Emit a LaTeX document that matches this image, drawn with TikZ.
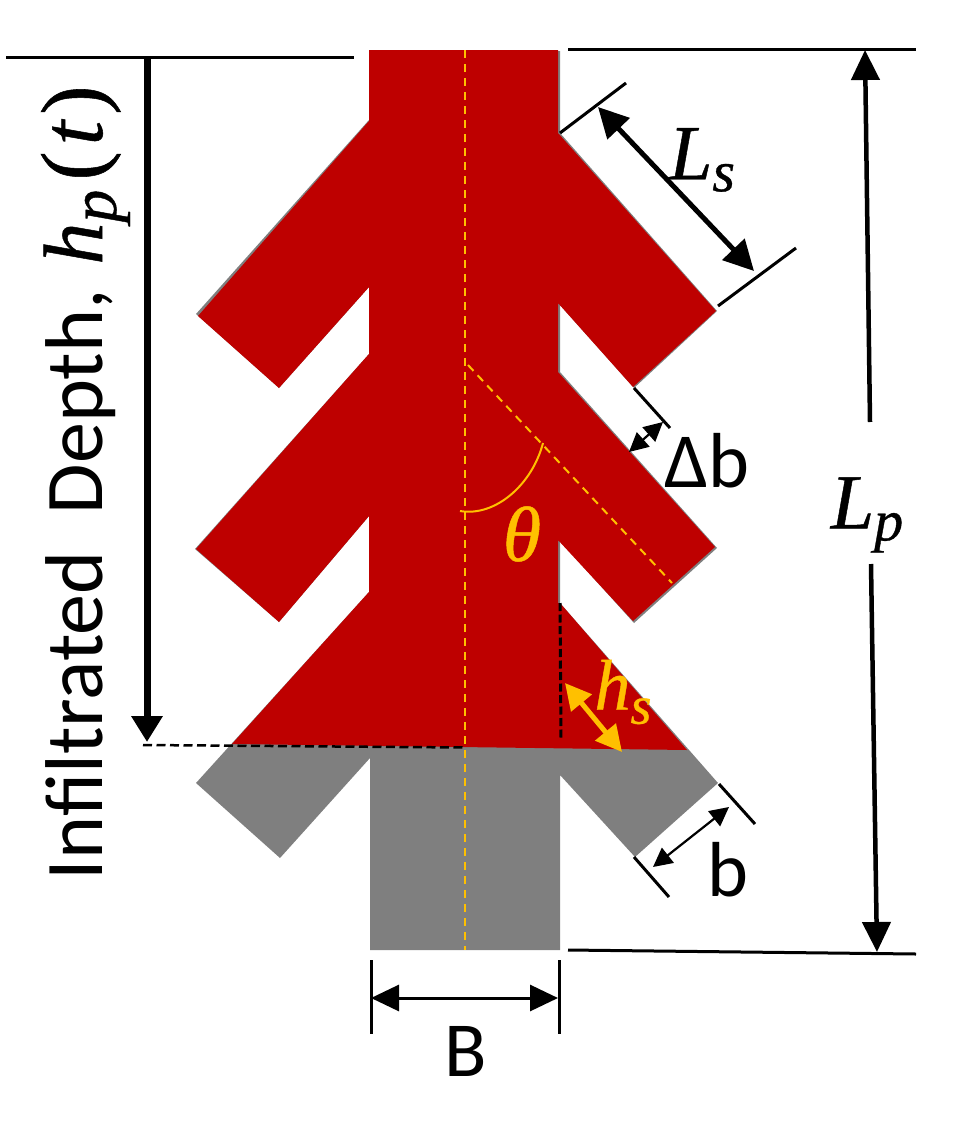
\RequirePackage{fix-cm}
\documentclass[tikz,border=0pt]{standalone}
\usepackage{fontspec}
\setmainfont{Carlito}
\newfontfamily\camb[FakeBold=0.6]{Liberation Serif}
\usetikzlibrary{arrows.meta}
\definecolor{treered}{HTML}{BE0000}
\definecolor{treegray}{HTML}{7F7F7F}
\definecolor{accent}{HTML}{FFC000}
\newcommand{\fs}[1]{\fontsize{#1}{#1}\selectfont}
% italic letter with a lowered subscript: size, letter, sub size, drop, subscript
\newcommand{\subbed}[5]{{\camb\itshape\fs{#1}#2\raisebox{-#4pt}{\fs{#3}#5}}}
\tikzset{
  x=1pt,y=-1pt,
  thinline/.style={line width=3pt,black},
  bigdim/.style={line width=5pt,{Triangle[length=30pt,width=30pt]}-{Triangle[length=30pt,width=30pt]}},
  onedim/.style={line width=4.5pt,-{Triangle[length=30pt,width=28pt]}},
  smalldim/.style={line width=2.2pt,{Triangle[length=19pt,width=19pt]}-{Triangle[length=19pt,width=19pt]}},
  axis/.style={accent,line width=2pt,dash pattern=on 8pt off 6pt},
  label/.style={inner sep=0pt,outer sep=0pt,black},
}
\begin{document}
\begin{tikzpicture}
\useasboundingbox (0,0) rectangle (970,1146);
% gray tree behind
\fill[treegray] (369,51) -- (560,51) -- (560,133) -- (717,311) -- (634,388) -- (560,305) -- (560,372) -- (717,548) -- (634,623) -- (560,541) -- (560,603) -- (718,783) -- (635,857) -- (560,775) -- (560,950) -- (370,950) -- (370,758) -- (280,858) -- (196,783) -- (369,592) -- (369,516) -- (279,622) -- (195,549) -- (369,354) -- (369,287) -- (279,388) -- (196,314) -- (369,120) -- cycle;
% red tree
\fill[treered] (369,50) -- (558,50) -- (558,133) -- (716,311) -- (633,387) -- (558,303) -- (558,372) -- (715,547) -- (633,621) -- (558,540) -- (558,603) -- (560,603) -- (687,750) -- (232,744) -- (369,592) -- (369,516) -- (279,622) -- (196,549) -- (369,354) -- (369,287) -- (279,388) -- (198,316) -- (369,121) -- cycle;
% axes
\coordinate (axT) at (464.5,50);
\coordinate (axB) at (464.5,950);
\coordinate (brS) at (468,365);
\coordinate (brE) at (672,583);
\draw[axis] (axT) -- (axB);
\draw[axis] (brS) -- (brE);
\coordinate (arcA) at (543,443);
\coordinate (arcB) at (460,511);
\draw[accent,line width=2pt] (arcA) .. controls (532,485) and (495,517) .. (arcB);
\node[label,text=accent,font=\camb\itshape\fs{78}] (theta) at (522,534) {θ};
% infiltrated depth
\coordinate (ltA) at (6,57);
\coordinate (ltB) at (354,57);
\draw[thinline] (ltA) -- (ltB);
\coordinate (ihT) at (147,57);
\coordinate (ihB) at (147,742);
\draw[line width=7pt,-{Triangle[length=26pt,width=30pt]}] (ihT) -- (ihB);
\coordinate (dashA) at (143,745);
\coordinate (dashB) at (465,747.5);
\draw[line width=2.5pt,dash pattern=on 9pt off 4.5pt] (dashA) -- (dashB);
\node[label,rotate=90,anchor=base west,font=\fs{82}] (infil) at (102,880) {Infiltrated\ \ Depth,\kern6pt\ \subbed{84}{h}{66}{14}{p}{\camb\fs{88}\kern9pt(\kern6pt\itshape t\kern6pt\upshape)}};
% Ls
\coordinate (lsA1) at (560,133);
\coordinate (lsA2) at (626,83);
\coordinate (lsB1) at (718,306);
\coordinate (lsB2) at (796,248);
\draw[thinline] (lsA1) -- (lsA2);
\draw[thinline] (lsB1) -- (lsB2);
\coordinate (lsU) at (598,107);
\coordinate (lsV) at (754,271);
\draw[bigdim] (lsU) -- (lsV);
\node[label] (ls) at (702,160) {\subbed{78}{L}{58}{12}{s}};
% Lp
\coordinate (rtA) at (568,49);
\coordinate (rtB) at (916,49);
\coordinate (rbA) at (568,950);
\coordinate (rbB) at (916,954);
\draw[thinline] (rtA) -- (rtB);
\draw[thinline] (rbA) -- (rbB);
\coordinate (lpA) at (870,422);
\coordinate (lpB) at (865,50);
\coordinate (lpC) at (871,564);
\coordinate (lpD) at (877,952);
\draw[onedim] (lpA) -- (lpB);
\draw[onedim] (lpC) -- (lpD);
\node[label] (lp) at (867,515) {\subbed{78}{L}{58}{12}{p}};
% delta b
\coordinate (dbA) at (634,388);
\coordinate (dbB) at (670,428);
\draw[thinline] (dbA) -- (dbB);
\coordinate (dbU) at (663,422);
\coordinate (dbV) at (629,452);
\draw[smalldim] (dbU) -- (dbV);
\node[label,font=\fs{78}] (db) at (707,461) {Δb};
% hs
\coordinate (hsA) at (565,683);
\coordinate (hsB) at (622,752);
\draw[accent,line width=5pt,{Triangle[length=26pt,width=26pt]}-{Triangle[length=26pt,width=26pt]}] (hsA) -- (hsB);
\coordinate (vdA) at (560,603);
\coordinate (vdB) at (561,738);
\draw[line width=3pt,dash pattern=on 8pt off 3.5pt] (vdA) -- (vdB);
\node[label,text=accent] (hs) at (623,692) {\subbed{72}{h}{54}{14}{s}};
% b
\coordinate (bA1) at (719,784);
\coordinate (bA2) at (755,824);
\coordinate (bB1) at (634,857);
\coordinate (bB2) at (669,897);
\draw[thinline] (bA1) -- (bA2);
\draw[thinline] (bB1) -- (bB2);
\coordinate (bU) at (729,807);
\coordinate (bV) at (653,867);
\draw[smalldim] (bU) -- (bV);
\node[label,font=\fs{78}] (bl) at (728,870) {b};
% B
\coordinate (bbA1) at (371,960);
\coordinate (bbA2) at (371,1034);
\coordinate (bbB1) at (559,960);
\coordinate (bbB2) at (559,1034);
\draw[thinline] (bbA1) -- (bbA2);
\draw[thinline] (bbB1) -- (bbB2);
\coordinate (bbU) at (371,998);
\coordinate (bbV) at (558,998);
\draw[line width=3pt,{Triangle[length=28pt,width=26pt]}-{Triangle[length=28pt,width=26pt]}] (bbU) -- (bbV);
\node[label,font=\fs{78}] (bigb) at (466,1051) {B};
\end{tikzpicture}
\end{document}
